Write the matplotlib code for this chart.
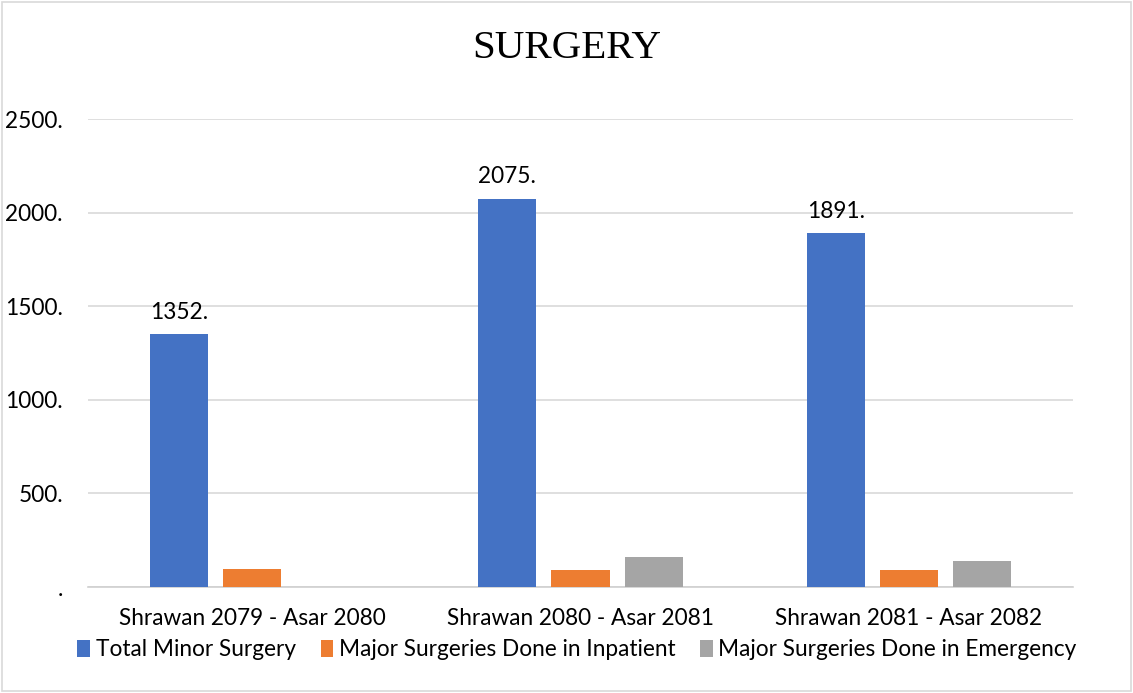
import matplotlib
matplotlib.use("Agg")
import matplotlib.pyplot as plt
import numpy as np
from matplotlib.patches import Rectangle

categories = ["Shrawan 2079 - Asar 2080", "Shrawan 2080 - Asar 2081", "Shrawan 2081 - Asar 2082"]
series_names = ["Total Minor Surgery", "Major Surgeries Done in Inpatient", "Major Surgeries Done in Emergency"]
total_minor = [1352, 2075, 1891]
major_inpatient = [98, 93, 92]
major_emergency = [0, 160, 139]
yticks = [0, 500, 1000, 1500, 2000, 2500]
ytick_labels = [".", "500.", "1000.", "1500.", "2000.", "2500."]
colors = ["#4472C4", "#ED7D31", "#A5A5A5"]

FONT = "Lato"
FS = 16.3

fig = plt.figure(figsize=(11.33, 6.93), dpi=100)
ax = fig.add_axes([88/1133, 1-587/693, (1073-88)/1133, (587-119)/693])

x = np.arange(len(categories))
w = 0.177
off = 0.2226
for i, (vals, name) in enumerate(zip([total_minor, major_inpatient, major_emergency], series_names)):
    bars = ax.bar(x + (i-1)*off, vals, width=w, color=colors[i], label=name, zorder=3)
    if i == 0:
        for b, v in zip(bars, vals):
            ax.annotate(f"{v}.", (b.get_x()+b.get_width()/2, v), xytext=(0, 8),
                        textcoords="offset points", ha="center", va="bottom",
                        fontsize=FS, family=FONT, color="#000000")

ax.set_xlim(-0.5, 2.5)
ax.set_ylim(0, 2500)
ax.set_yticks(yticks)
ax.set_yticklabels(ytick_labels, family=FONT, fontsize=FS)
ax.set_xticks(x)
ax.set_xticklabels(categories, family=FONT, fontsize=FS)
ax.tick_params(axis="both", length=0)
ax.tick_params(axis="y", pad=18)
ax.tick_params(axis="x", pad=15)
ax.grid(axis="y", color="#d9d9d9", linewidth=1.2, zorder=0)
for s in ["top", "right", "left"]:
    ax.spines[s].set_visible(False)
ax.spines["bottom"].set_color("#d0d0d0")
ax.spines["bottom"].set_linewidth(1.2)

fig.suptitle("SURGERY", family="Liberation Serif", fontsize=29.5, y=1-49/693, va="center")

leg = fig.legend(loc="center", bbox_to_anchor=(577/1133, 1-650/693), ncol=3, frameon=False,
                 prop={"family": FONT, "size": FS}, handlelength=0.55, handleheight=0.8,
                 handletextpad=0.25, columnspacing=1.1)

fig.patches.append(Rectangle((2/1133, 2/693), 1-4/1133, 1-4/693, transform=fig.transFigure,
                             fill=False, edgecolor="#d9d9d9", linewidth=1.2))

fig.savefig("out.png", dpi=100)
